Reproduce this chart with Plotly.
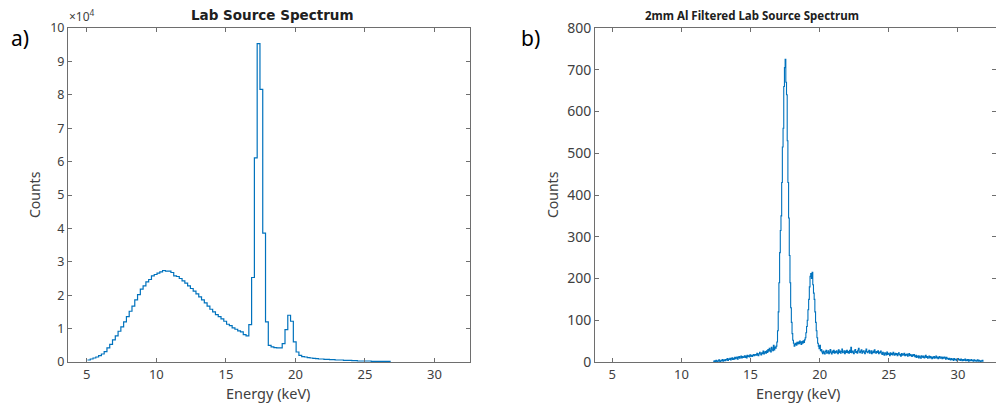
import numpy as np
import plotly.graph_objects as go

# ---- data ----
# a) unfiltered lab source, 0.2 keV bins starting at 5.05 keV
lab_start_kev = 5.05
lab_bin_kev = 0.2
lab_counts = [
    600, 900, 1200, 1500, 1900, 2400, 3100, 4200, 5300, 6600,
    7800, 9200, 10500, 12000, 13600, 15200, 16700, 18600, 20200, 21800,
    22800, 24000, 24700, 25800, 26200, 26600, 27000, 27400, 27200, 27200,
    26800, 25800, 25600, 25000, 24300, 23600, 22800, 22000, 21200, 20400,
    19500, 18600, 17700, 16700, 15800, 15000, 14200, 13600, 12900, 12200,
    11300, 10900, 10200, 9800, 9300, 9000, 8200, 7800, 11200, 25300,
    61100, 95300, 81600, 38600, 12000, 5000, 4500, 4300, 4200, 4200,
    5500, 9700, 14000, 12200, 6000, 3000, 2000, 1600, 1500, 1300,
    1200, 1100, 1000, 900, 900, 800, 800, 700, 700, 600,
    600, 600, 500, 500, 500, 400, 400, 300, 300, 300,
    300, 300, 200, 200, 200, 200, 200, 200, 200,
]

# b) 2 mm Al filtered source, 0.05 keV bins starting at 12.30 keV
filt_start_kev = 12.30
filt_bin_kev = 0.05
filt_counts = [
    2, 0, 3, 1, 4, 2, 0, 3, 5, 2, 1, 4, 3, 6, 2, 4, 5, 3, 6,
    5, 8, 4, 7, 6, 9, 5, 8, 10, 6, 9, 7, 11, 8, 10, 12, 7, 11, 13, 9, 12, 14,
    10, 13, 11, 12, 15, 11, 14, 10, 16, 13, 15, 12, 17, 14, 16, 13, 16, 18, 15, 17,
    18, 16, 21, 17, 15, 20, 23, 19, 17, 22, 20, 26, 19, 22, 25, 21, 27, 23,
    30, 26, 33, 28, 24, 35, 31, 27, 40, 29, 36, 33, 38,
    48, 75, 120, 190, 262, 315, 350, 430, 515, 560, 660, 705, 725, 670, 640,
    530, 430, 345, 255, 190, 130, 95, 68, 52, 45, 38, 42,
    45, 40, 47, 43, 48, 44, 50, 46, 42, 49, 45, 51, 47, 53, 58,
    70, 85, 100, 125, 150, 180, 205, 212, 200, 215, 185, 165, 150, 120, 95,
    75, 58, 45, 38, 32, 40, 27, 30,
    24, 20, 26, 22, 19, 25, 28, 21, 23, 27, 20, 24, 30, 22, 19, 26, 23, 28, 21,
    25, 22, 27, 24, 20, 29, 23, 26, 21, 25, 31, 22, 24, 27, 20, 26, 23, 28, 22,
    25, 21, 28, 23, 35, 22, 26, 24, 20, 27, 30, 23, 25, 21, 28, 33, 24, 22, 26,
    29, 21, 25, 27, 23, 20, 26, 31, 24, 22, 25, 28, 21, 24, 27, 20, 23, 26, 22,
    29, 24, 21, 25, 23, 27, 20, 24, 22, 26,
    21, 18, 23, 19, 16, 22, 20, 17, 24, 18, 21, 19, 15, 22, 18, 20, 17, 23, 19,
    16, 21, 18, 20, 15, 19, 22, 17, 18, 14, 20, 16, 19, 17, 21, 15, 18, 16, 19,
    14, 17, 20, 15, 18, 16, 13, 17, 15, 18,
    14, 12, 16, 11, 13, 15, 10, 14, 12, 9, 15, 13, 11, 14, 10, 12, 16, 11, 13,
    9, 12, 14, 10, 13, 11, 8, 12, 10, 13, 9, 11, 14, 10, 12, 8, 11, 13, 9, 10,
    12, 8, 11, 9, 12, 10, 7, 11, 9,
    8, 6, 9, 7, 5, 8, 6, 7, 4, 8, 6, 5, 7, 3, 6, 8, 5, 6, 4, 7, 5, 3, 6, 4, 5,
    7, 3, 5, 4, 6, 2, 5, 3, 4, 6, 3, 4, 2, 5, 3, 4, 2, 3, 5, 2, 4, 3, 1, 3, 2,
    4, 2,
]

x_ticks = [5, 10, 15, 20, 25, 30]
lab_yticks = list(range(0, 11))          # in units of 10^4
filt_yticks = list(range(0, 801, 100))

# ---- figure ----
W, H = 996, 409
LINE = '#0072BD'
AX = '#6e6e6e'
TXT = '#404040'
FONT = 'Noto Sans'


def px_x(p):
    return p / W


def px_y(p):
    return 1 - p / H


lab_edges = lab_start_kev + lab_bin_kev * np.arange(len(lab_counts) + 1)
filt_edges = filt_start_kev + filt_bin_kev * np.arange(len(filt_counts) + 1)

fig = go.Figure()
fig.add_trace(go.Scatter(
    x=lab_edges, y=list(lab_counts) + [lab_counts[-1]],
    mode='lines', line=dict(color=LINE, width=1.2, shape='hv'),
    xaxis='x', yaxis='y', showlegend=False))
fig.add_trace(go.Scatter(
    x=filt_edges, y=list(filt_counts) + [filt_counts[-1]],
    mode='lines', line=dict(color=LINE, width=1.1, shape='hv'),
    xaxis='x2', yaxis='y2', showlegend=False))

axis_common = dict(
    showline=True, linecolor=AX, linewidth=1, mirror='ticks',
    ticks='inside', ticklen=4, tickcolor=AX, tickwidth=1,
    showgrid=False, zeroline=False, automargin=False,
)


def tf(size):
    return dict(family=FONT, size=size, color=TXT)


xdom_a = [px_x(68), px_x(470)]
xdom_b = [px_x(595), 1.0]
ydom = [px_y(362), px_y(28)]

fig.update_layout(
    width=W, height=H,
    margin=dict(l=0, r=0, t=0, b=0),
    paper_bgcolor='white', plot_bgcolor='white',
    xaxis=dict(domain=xdom_a, range=[3.65, 32.55], tickvals=x_ticks,
               anchor='y', tickfont=tf(13), **axis_common),
    yaxis=dict(domain=ydom, range=[0, 100000],
               tickvals=[v * 10000 for v in lab_yticks],
               ticktext=[str(v) for v in lab_yticks],
               anchor='x', tickfont=tf(12.5), **axis_common),
    xaxis2=dict(domain=xdom_b, range=[3.75, 32.75], tickvals=x_ticks,
                anchor='y2', tickfont=tf(13), **axis_common),
    yaxis2=dict(domain=ydom, range=[0, 800], tickvals=filt_yticks,
                anchor='x2', tickfont=tf(14), **axis_common),
)

annotations = [
    dict(text='<b>Lab Source Spectrum</b>', x=px_x(272), y=px_y(15),
         font=dict(family='DejaVu Sans', size=13.5, color='#202020')),
    dict(text='<b>2mm Al Filtered Lab Source Spectrum</b>', x=px_x(752), y=px_y(15),
         font=dict(family=FONT, size=11.5, color='#202020')),
    dict(text='×10<sup>4</sup>', x=px_x(67), y=px_y(16), xanchor='left',
         font=tf(12)),
    dict(text='Energy (keV)', x=px_x(268), y=px_y(393), font=tf(14.5)),
    dict(text='Energy (keV)', x=px_x(798), y=px_y(393), font=tf(14.5)),
    dict(text='Counts', x=px_x(35), y=px_y(195), textangle=-90, font=tf(14)),
    dict(text='Counts', x=px_x(553), y=px_y(195), textangle=-90, font=tf(14)),
    dict(text='a)', x=px_x(9), y=px_y(38), xanchor='left',
         font=dict(family=FONT, size=21, color='black')),
    dict(text='b)', x=px_x(519), y=px_y(38), xanchor='left',
         font=dict(family=FONT, size=21, color='black')),
]
for a in annotations:
    a.setdefault('xanchor', 'center')
    fig.add_annotation(xref='paper', yref='paper', showarrow=False,
                       yanchor='middle', **a)

# drop the default 8px page margin so the figure sits at the window origin
fig.write_html("out.html", config={'displayModeBar': False},
               post_script="document.body.style.margin='0';")
